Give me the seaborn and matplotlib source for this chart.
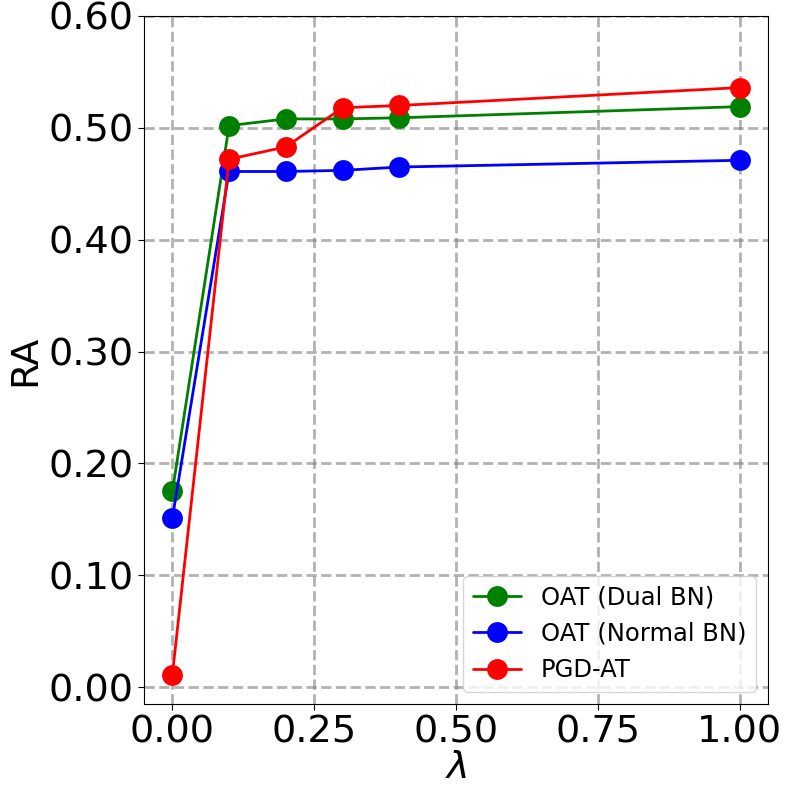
import numpy as np
import pandas as pd
import seaborn as sns
import matplotlib.pyplot as plt

lam = [0.0, 0.1, 0.2, 0.3, 0.4, 1.0]
dual_bn = [0.175, 0.502, 0.508, 0.508, 0.509, 0.519]
normal_bn = [0.151, 0.461, 0.461, 0.462, 0.465, 0.471]
pgd_at = [0.011, 0.472, 0.483, 0.518, 0.520, 0.536]
names = ["OAT (Dual BN)", "OAT (Normal BN)", "PGD-AT"]
colors = ["green", "blue", "red"]

df = pd.DataFrame({
    "lam": lam * 3,
    "RA": dual_bn + normal_bn + pgd_at,
    "method": [names[0]] * 6 + [names[1]] * 6 + [names[2]] * 6,
})

sns.set_style("white")
plt.rcParams['font.family'] = ['DejaVu Sans']
plt.rcParams['text.color'] = 'black'
plt.rcParams['axes.labelcolor'] = 'black'
plt.rcParams['xtick.color'] = 'black'
plt.rcParams['ytick.color'] = 'black'
fig, ax = plt.subplots(figsize=(8, 8), dpi=100)
sns.lineplot(data=df, x="lam", y="RA", hue="method", palette=colors,
             marker="o", markersize=15, markeredgewidth=0, linewidth=2,
             dashes=False, ax=ax)
ax.grid(True, linestyle="--", color="gray", alpha=0.6, linewidth=2)
ax.set_ylim(-0.015, 0.6)
ax.set_yticks(np.arange(0, 0.61, 0.1))
ax.set_yticklabels([f"{v:.2f}" for v in np.arange(0, 0.61, 0.1)])
ax.set_xticks([0, 0.25, 0.5, 0.75, 1.0])
ax.set_xticklabels(["0.00", "0.25", "0.50", "0.75", "1.00"])
ax.tick_params(labelsize=27.5, length=4, left=True, bottom=True)
ax.set_xlabel(r"$\lambda$", fontsize=27.5, labelpad=0)
ax.set_ylabel("RA", fontsize=27.5)
for s in ax.spines.values():
    s.set_color("black")
ax.legend(loc="lower right", fontsize=17.5, title=None)
plt.subplots_adjust(left=0.18, right=0.96, top=0.98, bottom=0.12)
plt.savefig("out.png")
